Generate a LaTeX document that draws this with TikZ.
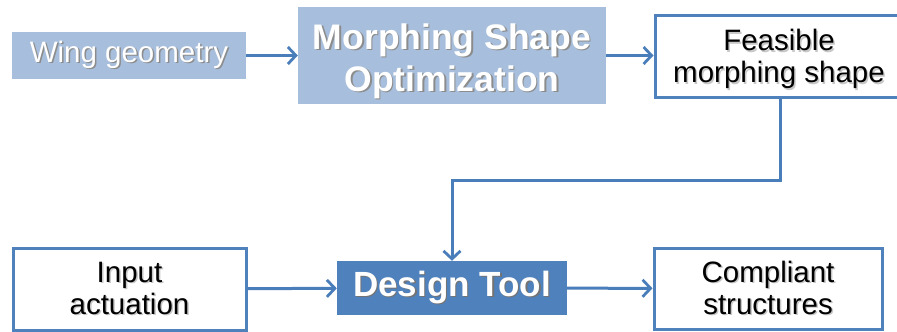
\documentclass[tikz,border=0pt]{standalone}
\usepackage{fontspec}
\setmainfont{Liberation Sans}
\usetikzlibrary{arrows.meta}

\definecolor{paleblue}{HTML}{A7BFDD}
\definecolor{midblue}{HTML}{4F81BD}
\definecolor{linkblue}{HTML}{4A7EBB}

% text with a small drop shadow: #1 shadow colour, #2 text
\newcommand\shd[2]{\leavevmode\rlap{\kern1.5pt\raisebox{-1.5pt}{\textcolor{#1}{#2}}}#2}

\tikzset{
  pale/.style={fill=paleblue, draw=none, text=white, inner sep=0pt, align=center},
  dark/.style={fill=midblue, draw=none, text=white, inner sep=0pt, align=center},
  outlined/.style={fill=white, draw=midblue, line width=3pt, text=black, inner sep=0pt, align=center},
  plainfont/.style={font=\fontsize{29.5}{32}\selectfont},
  boldfont/.style={font=\fontsize{35.5}{42}\selectfont\bfseries},
  link/.style={draw=linkblue, line width=3pt,
    -{Straight Barb[length=8pt,width=17pt,line width=2.8pt]}},
}

\begin{document}
\begin{tikzpicture}[x=1pt, y=-1pt]
  \path[use as bounding box, clip] (0,0) rectangle (897,332);

  % upper row
  \node[pale, plainfont, minimum width=234pt, minimum height=47pt] (wing) at (129,55.5)
    {\shd{black!45}{Wing geometry}};
  \node[pale, boldfont, minimum width=308pt, minimum height=97pt] (mso) at (452,55.5)
    {\rule{0pt}{38pt}\shd{black!45}{Morphing Shape}\\ \shd{black!45}{Optimization}};
  \node[outlined, plainfont, minimum width=248pt, minimum height=82pt] (feas) at (779,56)
    {\rule{0pt}{29pt}\shd{black!22}{Feasible}\\ \shd{black!22}{morphing shape}};

  % lower row
  \node[outlined, plainfont, minimum width=233pt, minimum height=82pt] (input) at (129.5,289)
    {\shd{black!22}{Input}\\ \shd{black!22}{actuation}};
  \node[dark, boldfont, font=\fontsize{35}{42}\selectfont\bfseries,
        minimum width=230pt, minimum height=54pt] (design) at (452,288)
    {\shd{black!55}{Design Tool}};
  \node[outlined, plainfont, minimum width=228pt, minimum height=81pt] (comp) at (768,288.5)
    {\shd{black!22}{Compliant}\\ \shd{black!22}{structures}};

  % connectors
  \coordinate (elbow) at (780,180);
  \draw[link] (wing) -- (mso);
  \draw[link] (mso) -- (feas.west |- mso);
  \draw[link] (feas.south -| elbow) -- (elbow) -| (design.north);
  \draw[link] (input) -- (design);
  \draw[link] (design) -- (comp);
\end{tikzpicture}
\end{document}
